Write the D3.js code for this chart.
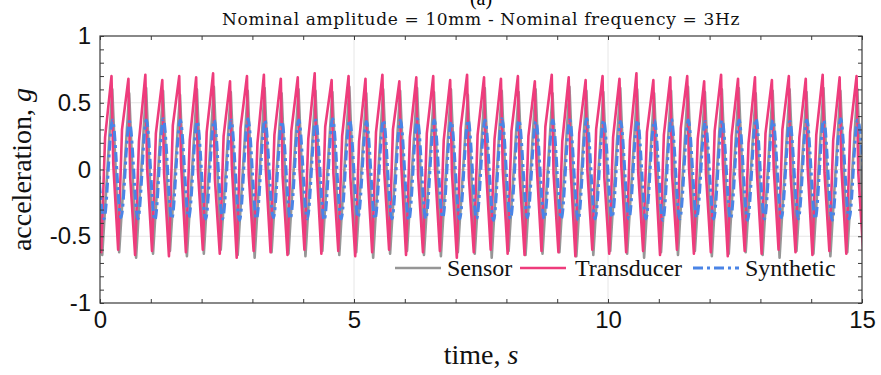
<!DOCTYPE html>
<html>
<head>
<meta charset="utf-8">
<script src="https://cdn.jsdelivr.net/npm/d3@7"></script>
<style>
  body { margin: 0; background: #fff; }
  svg { display: block; }
</style>
</head>
<body>
<svg id="chart"></svg>
<script>
const W = 881, H = 375;
const margin = {top: 36, right: 19, bottom: 72, left: 100};
const width = W - margin.left - margin.right;
const height = H - margin.top - margin.bottom;

// nominal excitation
const freq = 3; // Hz

// peak / trough per cycle (g)
const transducerPeak = [
  0.66, 0.70, 0.68, 0.71, 0.67, 0.70, 0.69, 0.72, 0.66, 0.70,
  0.71, 0.68, 0.69, 0.72, 0.67, 0.70, 0.68, 0.71, 0.66, 0.69,
  0.70, 0.67, 0.71, 0.69, 0.68, 0.70, 0.66, 0.71, 0.69, 0.67,
  0.70, 0.68, 0.72, 0.67, 0.69, 0.70, 0.66, 0.71, 0.68, 0.69,
  0.67, 0.70, 0.68, 0.71, 0.69, 0.70
];
// shoulder on the falling edge, and on the rising edge
const transducerFallKnee = [
  -0.02, 0.04, -0.06, 0.01, -0.03, 0.05, -0.01, -0.07, 0.03, -0.04,
  0.02, -0.05, 0.00, 0.04, -0.03, -0.06, 0.02, -0.01, 0.05, -0.04,
  0.01, -0.02, -0.06, 0.03, 0.00, -0.05, 0.04, -0.03, 0.02, -0.01,
  -0.06, 0.03, -0.02, 0.05, -0.04, 0.01, -0.03, 0.04, -0.05, 0.00,
  0.02, -0.04, 0.03, -0.02, 0.01, -0.03
];
const transducerTrough = [
  -0.62, -0.60, -0.64, -0.61, -0.65, -0.62, -0.60, -0.63, -0.66, -0.61,
  -0.62, -0.64, -0.60, -0.63, -0.61, -0.65, -0.62, -0.60, -0.64, -0.62,
  -0.61, -0.66, -0.62, -0.60, -0.63, -0.64, -0.61, -0.62, -0.65, -0.60,
  -0.63, -0.62, -0.61, -0.64, -0.60, -0.63, -0.62, -0.65, -0.61, -0.63,
  -0.60, -0.62, -0.64, -0.61, -0.63, -0.62
];
const transducerRiseKnee = [
  0.24, 0.30, 0.21, 0.27, 0.33, 0.22, 0.28, 0.25, 0.31, 0.20,
  0.26, 0.29, 0.23, 0.32, 0.25, 0.21, 0.28, 0.30, 0.24, 0.27,
  0.22, 0.31, 0.26, 0.23, 0.29, 0.25, 0.32, 0.21, 0.27, 0.30,
  0.24, 0.22, 0.28, 0.26, 0.31, 0.23, 0.29, 0.25, 0.20, 0.27,
  0.30, 0.24, 0.26, 0.22, 0.28, 0.25
];
const sensorPeak = [
  0.58, 0.60, 0.57, 0.61, 0.59, 0.56, 0.60, 0.62, 0.58, 0.59,
  0.61, 0.57, 0.60, 0.59, 0.58, 0.62, 0.57, 0.60, 0.59, 0.61,
  0.58, 0.60, 0.56, 0.61, 0.59, 0.58, 0.60, 0.57, 0.62, 0.59,
  0.58, 0.61, 0.60, 0.57, 0.59, 0.62, 0.58, 0.60, 0.61, 0.57,
  0.59, 0.60, 0.58, 0.61, 0.59, 0.60
];
const sensorTrough = [
  -0.64, -0.62, -0.66, -0.63, -0.61, -0.65, -0.63, -0.60, -0.64, -0.66,
  -0.62, -0.63, -0.65, -0.61, -0.64, -0.62, -0.66, -0.63, -0.61, -0.64,
  -0.65, -0.62, -0.63, -0.66, -0.61, -0.64, -0.63, -0.62, -0.65, -0.64,
  -0.61, -0.63, -0.66, -0.62, -0.64, -0.61, -0.65, -0.63, -0.62, -0.64,
  -0.66, -0.61, -0.63, -0.65, -0.62, -0.64
];
const syntheticPeak = [
  0.37, 0.37, 0.36, 0.37, 0.38, 0.37, 0.36, 0.37, 0.37, 0.38,
  0.37, 0.36, 0.37, 0.37, 0.38, 0.37, 0.36, 0.37, 0.37, 0.38,
  0.37, 0.36, 0.37, 0.37, 0.38, 0.37, 0.36, 0.37, 0.37, 0.38,
  0.37, 0.36, 0.37, 0.37, 0.38, 0.37, 0.36, 0.37, 0.37, 0.38,
  0.37, 0.36, 0.37, 0.37, 0.38, 0.37
];
const syntheticTrough = [
  -0.37, -0.36, -0.37, -0.38, -0.37, -0.36, -0.37, -0.37, -0.38, -0.37,
  -0.36, -0.37, -0.37, -0.38, -0.37, -0.36, -0.37, -0.37, -0.38, -0.37,
  -0.36, -0.37, -0.37, -0.38, -0.37, -0.36, -0.37, -0.37, -0.38, -0.37,
  -0.36, -0.37, -0.37, -0.38, -0.37, -0.36, -0.37, -0.37, -0.38, -0.37,
  -0.36, -0.37, -0.37, -0.38, -0.37, -0.36
];

// each series: [value array, time inside the cycle (s)] in drawing order
const seriesInfo = [
  {name: 'Sensor', color: '#969696', dash: null, curve: d3.curveLinear,
   keys: [[sensorPeak, -0.092], [sensorTrough, 0.044]]},
  {name: 'Transducer', color: '#ee3c7c', dash: null, curve: d3.curveLinear,
   keys: [[transducerPeak, -0.107], [transducerFallKnee, -0.072], [transducerTrough, 0.024], [transducerRiseKnee, 0.100]]},
  {name: 'Synthetic', color: '#4a84e6', dash: '10,4,3,4', curve: d3.curveMonotoneX,
   keys: [[syntheticPeak, -0.087], [syntheticTrough, 0.080]]}
];

const yTicks = [-1, -0.5, 0, 0.5, 1];
const xTicks = [0, 5, 10, 15];

const svg = d3.select('#chart').attr('width', W).attr('height', H);
const g = svg.append('g').attr('transform', `translate(${margin.left},${margin.top})`);

const x = d3.scaleLinear().domain([0, 15]).range([0, width]);
const y = d3.scaleLinear().domain([-1, 1]).range([height, 0]);

// grid
g.append('g').selectAll('line').data([5, 10]).join('line')
  .attr('x1', d => x(d)).attr('x2', d => x(d)).attr('y1', 0).attr('y2', height)
  .attr('stroke', '#e6e6e6');
g.append('g').selectAll('line').data([-0.5, 0, 0.5]).join('line')
  .attr('y1', d => y(d)).attr('y2', d => y(d)).attr('x1', 0).attr('x2', width)
  .attr('stroke', '#e6e6e6');

svg.append('clipPath').attr('id', 'clip').append('rect')
  .attr('width', width).attr('height', height);

const line = d3.line().x(d => x(d[0])).y(d => y(d[1]));

const plot = g.append('g').attr('clip-path', 'url(#clip)');
seriesInfo.forEach(s => {
  const pts = [];
  s.keys[0][0].forEach((_, i) => {
    s.keys.forEach(([vals, t]) => pts.push([i / freq + t, vals[i]]));
  });
  plot.append('path')
    .attr('d', line.curve(s.curve)(pts))
    .attr('fill', 'none')
    .attr('stroke', s.color)
    .attr('stroke-width', s.dash ? 3 : 2.6)
    .attr('stroke-dasharray', s.dash)
    .attr('stroke-linejoin', 'round');
});

// axes: ticks inside, box
const axisColor = '#3a3a3a';
const yMinor = d3.range(-10, 11).map(d => d / 10);
const xMinor = d3.range(0, 16);
const fmt = d => String(d); // plain hyphen minus

function styleAxis(sel) {
  sel.select('.domain').remove();
  sel.selectAll('.tick line').attr('stroke', axisColor);
  sel.selectAll('.tick text').attr('fill', '#111')
    .style('font-family', '"Liberation Sans", Arial, sans-serif')
    .style('font-size', '24px');
}

g.append('g').attr('transform', `translate(0,${height})`)
  .call(d3.axisBottom(x).tickValues(xMinor).tickSize(-4).tickFormat(d => xTicks.includes(d) ? fmt(d) : ''))
  .call(styleAxis)
  .call(a => a.selectAll('.tick text').attr('y', 8).attr('dy', '0.71em'));
g.append('g')
  .call(d3.axisTop(x).tickValues(xMinor).tickSize(-4).tickFormat(''))
  .call(styleAxis);
g.append('g')
  .call(d3.axisLeft(y).tickValues(yMinor).tickSize(-4)
    .tickFormat(d => yTicks.includes(d) ? fmt(d) : ''))
  .call(styleAxis)
  .call(a => a.selectAll('.tick text').attr('x', -9));
g.append('g').attr('transform', `translate(${width},0)`)
  .call(d3.axisRight(y).tickValues(yMinor).tickSize(-4).tickFormat(''))
  .call(styleAxis);

g.append('rect').attr('width', width).attr('height', height)
  .attr('fill', 'none').attr('stroke', axisColor).attr('stroke-width', 1.2);

// titles
const serif = '"Liberation Serif", "Times New Roman", serif';
svg.append('text')
  .attr('x', 481).attr('y', 5).attr('text-anchor', 'middle')
  .style('font-family', serif).style('font-size', '20px').text('(a)');
svg.append('text')
  .attr('x', 481).attr('y', 25).attr('text-anchor', 'middle')
  .style('font-family', '"DejaVu Serif", serif').style('font-size', '17px')
  .style('letter-spacing', '0.65px').attr('fill', '#111')
  .text('Nominal amplitude = 10mm - Nominal frequency = 3Hz');

const xl = svg.append('text')
  .attr('x', margin.left + width / 2).attr('y', 364).attr('text-anchor', 'middle')
  .style('font-family', serif).style('font-size', '28px').attr('fill', '#111');
xl.append('tspan').text('time, ');
xl.append('tspan').style('font-style', 'italic').text('s');

const yl = svg.append('text')
  .attr('transform', `translate(31,${margin.top + height / 2}) rotate(-90)`)
  .attr('text-anchor', 'middle')
  .style('font-family', serif).style('font-size', '28px').attr('fill', '#111');
yl.append('tspan').text('acceleration, ');
yl.append('tspan').style('font-style', 'italic').text('g');

// legend
const legendPos = [
  {x: 395, tx: 447},
  {x: 520, tx: 575},
  {x: 693, tx: 745}
];
const lg = svg.append('g');
seriesInfo.forEach((s, i) => {
  const it = legendPos[i];
  lg.append('line')
    .attr('x1', it.x).attr('x2', it.x + 46).attr('y1', 268).attr('y2', 268)
    .attr('stroke', s.color).attr('stroke-width', s.dash ? 3 : 2.4)
    .attr('stroke-dasharray', s.dash);
  lg.append('text')
    .attr('x', it.tx).attr('y', 268).attr('dy', '0.35em')
    .style('font-family', serif).style('font-size', '24px').attr('fill', '#111')
    .text(s.name);
});
</script>
</body>
</html>
